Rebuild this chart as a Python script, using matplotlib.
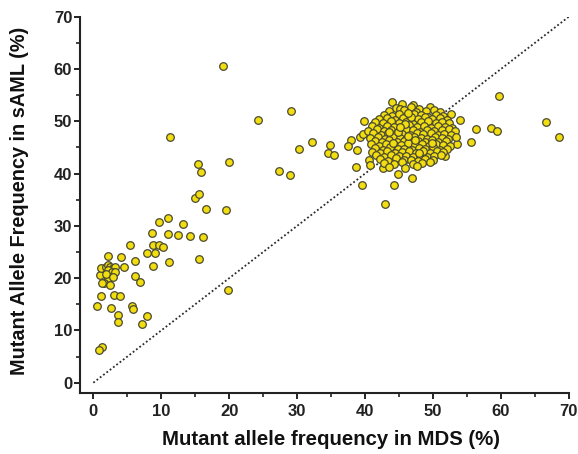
import matplotlib
matplotlib.use("Agg")
import matplotlib.pyplot as plt
from matplotlib.ticker import MultipleLocator

plt.rcParams["font.family"] = ["Liberation Sans", "DejaVu Sans"]
plt.rcParams["font.weight"] = "bold"

# low-VAF / scattered mutations (MDS %, sAML %)
mds_low = [0.6, 1.1, 1.3, 0.9, 2.6, 3.1, 3.9, 3.7, 3.6, 5.7, 5.8, 7.9, 7.1,
           1.0, 1.2, 1.8, 2.1, 2.5, 2.9, 3.2, 2.2, 2.8, 2.5, 2.1, 1.5, 2.5,
           3.2, 1.3, 1.9, 2.9, 2.2, 4.0, 4.5, 6.1, 6.9, 6.2, 5.4,
           7.9, 8.8, 9.1, 8.8, 9.7, 10.3, 11.2, 8.7, 11.0, 12.5, 14.3, 16.2,
           9.7, 11.0, 13.2, 14.9, 15.6, 16.6, 19.5, 15.4, 15.8, 11.3, 20.0,
           15.6, 19.9, 19.1, 24.3, 29.1, 27.4, 29.0]
aml_low = [14.6, 16.5, 6.9, 6.3, 14.3, 16.8, 16.5, 13.0, 11.6, 14.6, 14.1, 12.8, 11.3,
           20.6, 22.0, 22.2, 22.6, 22.2, 22.0, 22.2, 21.6, 21.2, 20.3, 20.1, 19.1, 18.7,
           21.2, 19.1, 20.8, 20.3, 24.3, 24.0, 22.1, 20.5, 19.3, 23.2, 26.4,
           24.8, 26.4, 24.8, 22.4, 26.4, 26.0, 23.0, 28.6, 28.5, 28.3, 28.1, 27.9,
           30.7, 31.6, 30.3, 35.3, 36.1, 33.3, 33.0, 41.9, 40.3, 47.1, 42.3,
           23.6, 17.8, 60.5, 50.2, 51.9, 40.5, 39.8]

# points around the edge of the main cluster
mds_edge = [32.2, 30.3, 34.8, 34.5, 35.5, 37.9, 37.5, 38.8, 39.3, 39.7, 38.7, 39.6,
            40.6, 40.7, 41.2, 39.9, 44.0, 44.9, 44.3, 46.9, 43.0, 42.7, 51.8, 53.5,
            55.6, 54.0, 52.6, 56.4, 58.6, 59.4, 59.8, 66.7, 68.6]
aml_edge = [46.1, 44.7, 45.4, 43.9, 43.5, 46.5, 45.3, 44.6, 47.1, 47.6, 41.2, 37.8,
            42.6, 41.7, 49.3, 50.0, 53.7, 39.9, 37.8, 39.2, 34.2, 41.0, 43.4, 45.6,
            46.1, 50.3, 51.4, 48.5, 48.7, 48.2, 54.9, 49.8, 47.0]

# dense cluster of clonal mutations
mds_core = [45.5, 47.0, 44.5, 45.2, 46.8, 48.0, 49.5, 50.2,
            43.6, 45.8, 47.5, 49.0, 51.0,
            42.8, 44.0, 45.0, 46.2, 47.2, 48.3, 49.3, 50.5, 51.5,
            42.0, 43.2, 44.4, 45.6, 46.6, 47.8, 48.8, 49.8, 51.0, 52.0,
            41.5, 42.6, 43.8, 45.0, 46.0, 47.1, 48.2, 49.3, 50.4, 51.4, 52.4,
            41.0, 42.0, 43.2, 44.3, 45.4, 46.5, 47.6, 48.7, 49.7, 50.8, 51.8, 52.8,
            40.5, 41.7, 42.8, 43.9, 45.0, 46.0, 47.1, 48.1, 49.2, 50.2, 51.3, 52.3, 53.2,
            41.2, 42.3, 43.4, 44.5, 45.5, 46.6, 47.6, 48.6, 49.7, 50.7, 51.7, 52.7,
            40.8, 41.9, 43.0, 44.1, 45.1, 46.1, 47.2, 48.2, 49.2, 50.3, 51.3, 52.2, 53.4,
            41.4, 42.5, 43.6, 44.7, 45.7, 46.7, 47.8, 48.8, 49.8, 50.8, 51.9,
            40.9, 42.0, 43.1, 44.2, 45.3, 46.3, 47.3, 48.4, 49.4, 50.4, 51.5, 52.5,
            41.5, 42.6, 43.7, 44.8, 45.8, 46.9, 47.9, 48.9, 50.0, 51.0, 52.0,
            41.1, 42.2, 43.3, 44.4, 45.5, 46.5, 47.5, 48.5, 49.6, 50.6, 51.5,
            41.6, 42.8, 43.9, 45.0, 46.1, 47.1, 48.1, 49.2, 50.2, 51.2,
            42.2, 43.4, 44.6, 45.7, 46.8, 47.8, 48.9, 50.0,
            42.8, 44.2, 45.4, 47.0, 48.4, 49.6,
            43.6, 45.9, 47.6,
            44.9, 46.3, 47.4, 45.9, 44.1, 48.6, 46.8, 43.5, 49.9, 45.2, 47.9, 46.4]
aml_core = [53.4, 53.1, 52.6, 52.3, 52.8, 52.4, 52.7, 52.2,
            51.9, 52.1, 51.8, 52.0, 51.7,
            51.3, 51.0, 51.4, 51.1, 51.5, 51.2, 50.9, 51.3, 51.0,
            50.4, 50.7, 50.3, 50.6, 50.2, 50.5, 50.8, 50.4, 50.6, 50.3,
            49.9, 49.6, 50.0, 49.7, 49.9, 49.5, 49.8, 50.1, 49.6, 49.9, 49.7,
            49.1, 48.8, 49.2, 48.9, 49.0, 49.3, 48.9, 49.1, 48.8, 49.2, 49.0, 48.7,
            48.2, 48.5, 48.1, 48.4, 48.2, 48.5, 48.3, 48.0, 48.4, 48.1, 48.3, 48.6, 48.2,
            47.7, 47.4, 47.8, 47.5, 47.6, 47.3, 47.7, 47.5, 47.8, 47.4, 47.6, 47.3,
            46.8, 47.1, 46.7, 47.0, 46.9, 46.6, 47.0, 46.8, 46.7, 47.1, 46.9, 46.6, 47.0,
            46.3, 46.0, 46.4, 46.1, 46.2, 45.9, 46.3, 46.1, 46.4, 46.0, 46.2,
            45.6, 45.3, 45.7, 45.4, 45.5, 45.8, 45.4, 45.6, 45.3, 45.7, 45.5, 45.2,
            44.9, 44.6, 45.0, 44.7, 44.8, 44.5, 44.9, 44.7, 45.0, 44.6, 44.8,
            44.2, 43.9, 44.3, 44.0, 44.1, 44.4, 44.0, 44.2, 43.9, 44.3, 44.1,
            43.5, 43.2, 43.6, 43.3, 43.4, 43.1, 43.5, 43.2, 43.4, 43.6,
            42.8, 42.5, 42.9, 42.6, 42.7, 42.4, 42.8, 42.6,
            42.0, 41.8, 42.2, 41.9, 42.1, 42.3,
            41.3, 41.1, 41.5,
            48.0, 47.2, 46.5, 49.4, 45.9, 44.3, 50.8, 47.9, 45.8, 49.0, 43.9, 51.6]

mds = mds_low + mds_edge + mds_core
aml = aml_low + aml_edge + aml_core

fig = plt.figure(figsize=(5.78, 4.54), dpi=100)
ax = fig.add_axes([0.138, 0.134, 0.846, 0.829])

ax.plot([0, 70], [0, 70], linestyle=(0, (1, 1.3)), color="#2a2a2a", linewidth=1.3, zorder=1)
ax.scatter(mds, aml, s=30, facecolor="#f2dd10", edgecolor="#4a4a30", linewidth=0.9, zorder=2)

ax.set_xlim(-2, 70)
ax.set_ylim(-2, 70)
ax.spines["top"].set_visible(False)
ax.spines["right"].set_visible(False)
for s in ["left", "bottom"]:
    ax.spines[s].set_linewidth(1.5)
    ax.spines[s].set_color("#222222")

ax.xaxis.set_major_locator(MultipleLocator(10))
ax.xaxis.set_minor_locator(MultipleLocator(5))
ax.yaxis.set_major_locator(MultipleLocator(10))
ax.yaxis.set_minor_locator(MultipleLocator(5))
ax.tick_params(which="major", length=4, width=1.4, color="#222222", labelsize=12, labelcolor="#222222")
ax.tick_params(axis="y", which="major", pad=1.5)
ax.tick_params(axis="x", which="major", pad=4)
ax.tick_params(which="minor", length=3, width=1.2, color="#222222")

ax.set_xlabel("Mutant allele frequency in MDS (%)", fontsize=14.7, fontweight="bold", color="#111111")
ax.set_ylabel("Mutant Allele Frequency in sAML (%)", fontsize=14.3, fontweight="bold", color="#111111")
ax.xaxis.set_label_coords(0.513, -0.097)
ax.yaxis.set_label_coords(-0.104, 0.51)

fig.savefig("out.png", dpi=100)
